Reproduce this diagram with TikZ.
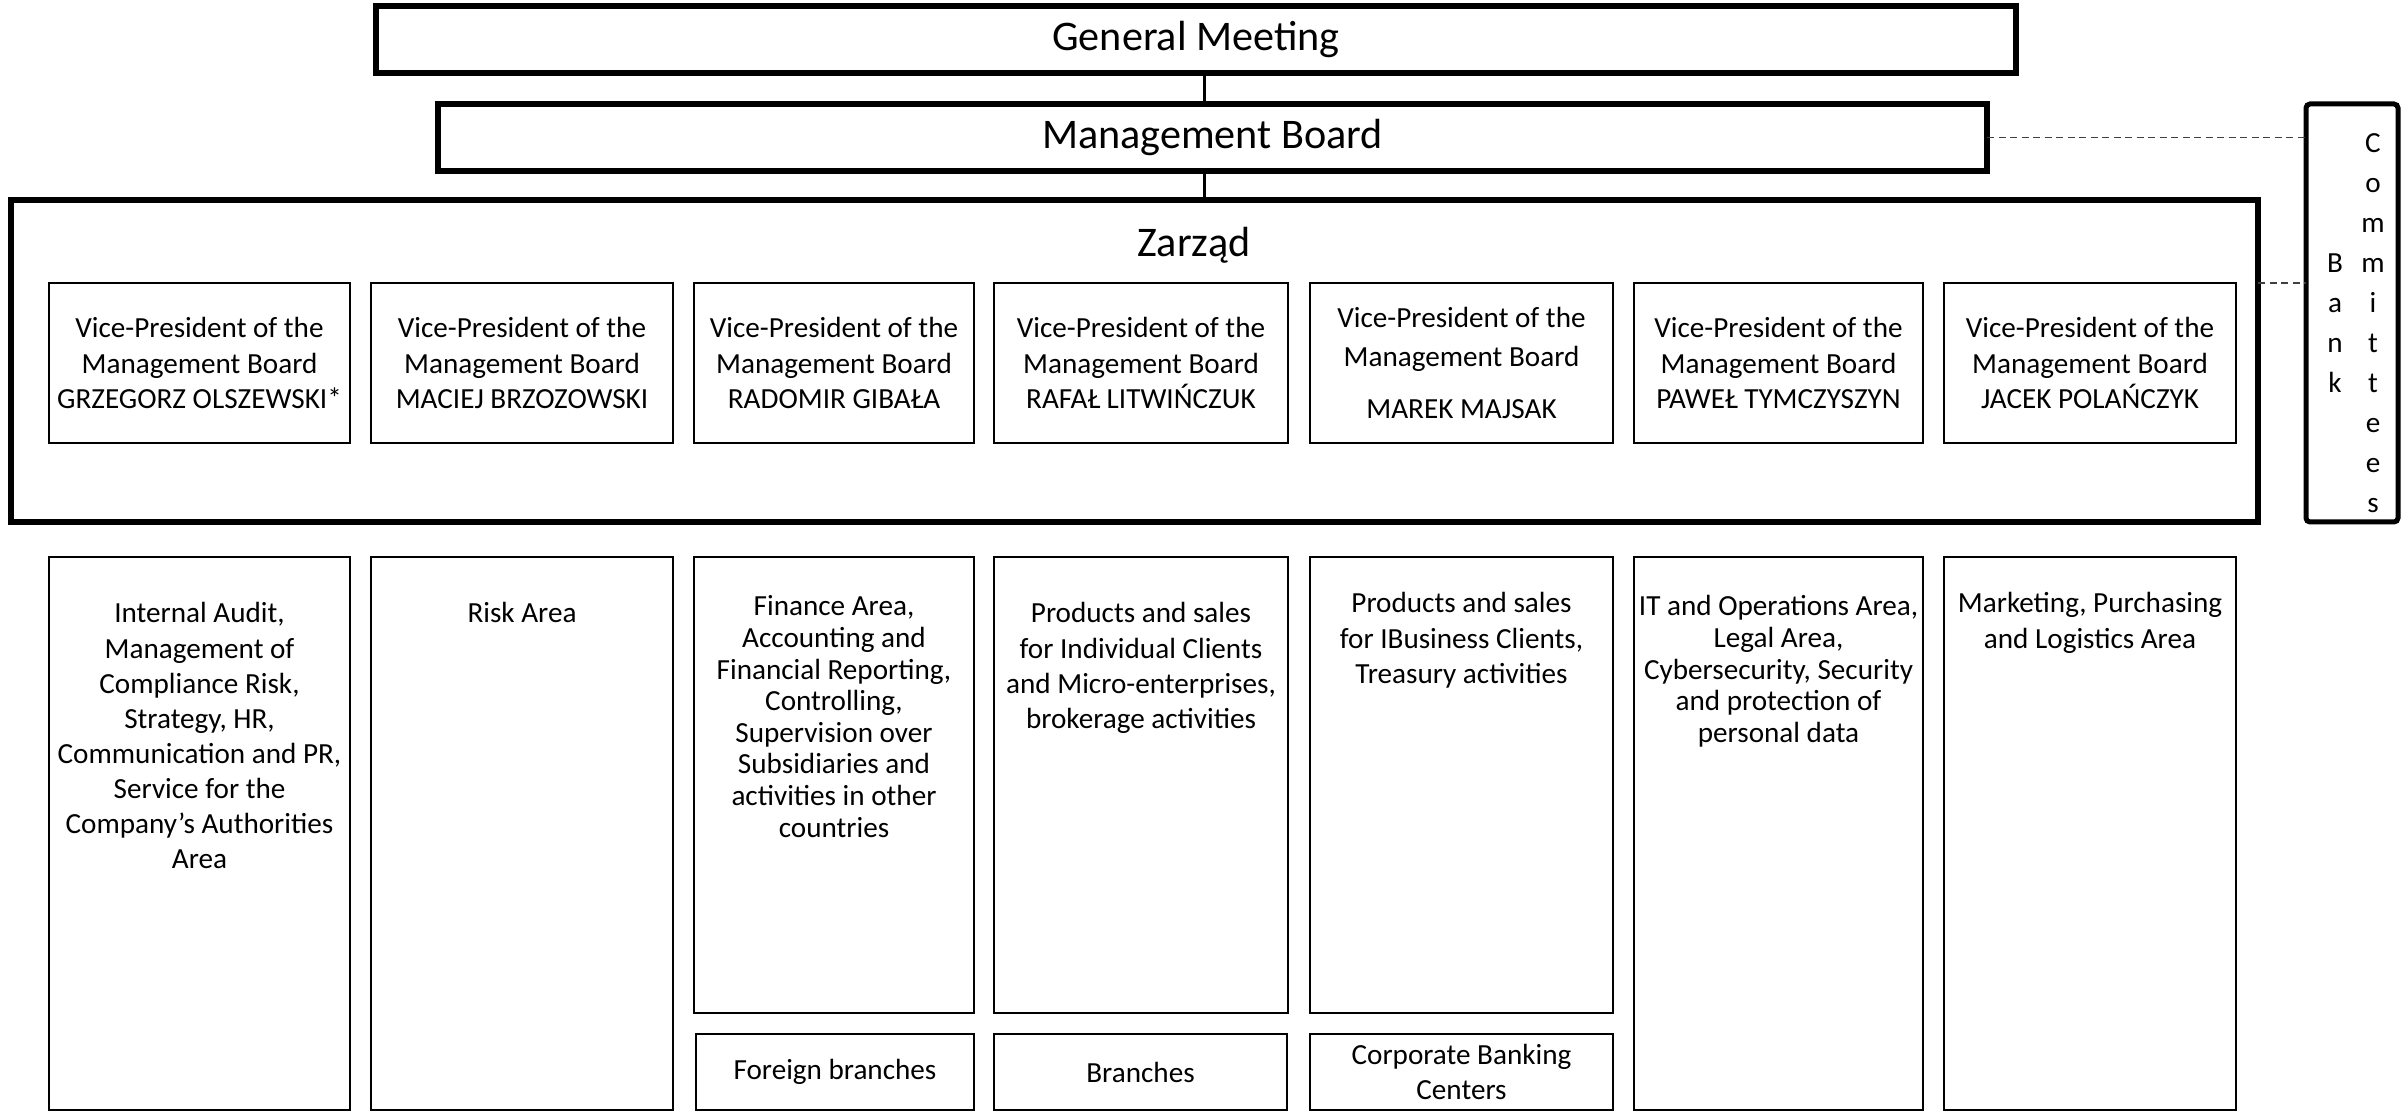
\documentclass[tikz,border=0pt]{standalone}
\usepackage{fontspec}
\setmainfont{Carlito}
%% A box given by its left, top, right and bottom edges.
\newcommand{\boxAt}[7]{%%
  \node[#1, minimum width={(#5-#3)*0.1mm}, minimum height={(#6-#4)*0.1mm}]
    (#2) at ({(#3+#5)/2},{(#4+#6)/2}) {#7};
}
%% The text hung from the top of an area box.
\newcommand{\areaText}[5]{%%
  \node[#1] (#2) at (#3.north |- 0,#4) {#5};
}
\newcommand{\vicePresidents}{%%
  \boxAt{vpStyle}{vpOne}{49}{283}{350}{443}{Vice-President of the\\Management Board\\GRZEGORZ OLSZEWSKI*}
  \boxAt{vpStyle}{vpTwo}{371}{283}{673}{443}{Vice-President of the\\Management Board\\MACIEJ BRZOZOWSKI}
  \boxAt{vpStyle}{vpThree}{694}{283}{974}{443}{Vice-President of the\\Management Board\\RADOMIR GIBAŁA}
  \boxAt{vpStyle}{vpFour}{994}{283}{1288}{443}{Vice-President of the\\Management Board\\RAFAŁ LITWIŃCZUK}
  \boxAt{vpStyle}{vpFive}{1310}{283}{1613}{443}{Vice-President of the\\[1.1pt]Management Board\\[5pt]MAREK MAJSAK}
  \boxAt{vpStyle}{vpSix}{1634}{283}{1923}{443}{Vice-President of the\\Management Board\\PAWEŁ TYMCZYSZYN}
  \boxAt{vpStyle}{vpSeven}{1944}{283}{2236}{443}{Vice-President of the\\Management Board\\JACEK POLAŃCZYK}
}
\newcommand{\areas}{%%
  %% The boxes.
  \boxAt{areaStyle}{areaOne}{49}{557}{350}{1110}{}
  \boxAt{areaStyle}{areaTwo}{371}{557}{673}{1110}{}
  \boxAt{areaStyle}{areaThree}{694}{557}{974}{1013}{}
  \boxAt{areaStyle}{areaFour}{994}{557}{1288}{1013}{}
  \boxAt{areaStyle}{areaFive}{1310}{557}{1613}{1013}{}
  \boxAt{areaStyle}{areaSix}{1634}{557}{1923}{1110}{}
  \boxAt{areaStyle}{areaSeven}{1944}{557}{2236}{1110}{}
  %% The texts.
  \areaText{areaTextStyle}{textOne}{areaOne}{602}{Internal Audit,\\Management of\\Compliance Risk,\\Strategy, HR,\\Communication and PR,\\Service for the\\Company's Authorities\\Area}
  \areaText{areaTextStyle}{textTwo}{areaTwo}{602}{Risk Area}
  \areaText{tightTextStyle}{textThree}{areaThree}{595}{Finance Area,\\Accounting and\\Financial Reporting,\\Controlling,\\Supervision over\\Subsidiaries and\\activities in other\\countries}
  \areaText{areaTextStyle}{textFour}{areaFour}{602}{Products and sales\\for Individual Clients\\and Micro-enterprises,\\brokerage activities}
  \areaText{areaTextStyle}{textFive}{areaFive}{592}{Products and sales\\for IBusiness Clients,\\Treasury activities}
  \areaText{tightTextStyle}{textSix}{areaSix}{595}{IT and Operations Area,\\Legal Area,\\Cybersecurity, Security\\and protection of\\personal data}
  \areaText{areaTextStyle}{textSeven}{areaSeven}{592}{Marketing, Purchasing\\and Logistics Area}
  %% The branches.
  \boxAt{vpStyle}{foreignBranches}{696}{1034}{974}{1110}{Foreign branches}
  \boxAt{vpStyle}{branches}{994}{1034}{1287}{1110}{Branches}
  \boxAt{vpStyle}{corporateCenters}{1310}{1034}{1613}{1110}{Corporate Banking\\Centers}
}

\begin{document}
\begin{tikzpicture}[x=0.1mm,y=-0.1mm,%%
  boardStyle/.style={draw,line width=0.55mm,inner sep=0pt,outer sep=0pt,font=\fontsize{12}{14}\selectfont},%%
  vpStyle/.style={draw,line width=0.2mm,align=center,inner sep=0pt,outer sep=0pt,font=\fontsize{8.3}{10}\selectfont},%%
  areaStyle/.style={draw,line width=0.2mm,inner sep=0pt,outer sep=0pt},%%
  areaTextStyle/.style={anchor=north,align=center,inner sep=0pt,font=\fontsize{8.3}{10}\selectfont},%%
  tightTextStyle/.style={anchor=north,align=center,inner sep=0pt,font=\fontsize{8.3}{9}\selectfont},%%
  bankStyle/.style={draw,line width=0.5mm,rounded corners=0.4mm,inner sep=0pt,outer sep=0pt},%%
  letterStyle/.style={align=center,inner sep=0pt,font=\fontsize{8.3}{11.4}\selectfont},%%
  linkStyle/.style={-,line width=0.3mm},%%
  dashStyle/.style={-,line width=0.15mm,black!75,dash pattern=on 0.7mm off 0.45mm}
]
\useasboundingbox (0,0) rectangle (2407,1114);
\coordinate (spine) at (1204,0);
%%
%% The governing bodies.
\boxAt{boardStyle}{meeting}{376}{6}{2016}{73}{General Meeting}
\boxAt{boardStyle}{board}{438}{104}{1987}{171}{Management Board}
\boxAt{boardStyle}{zarzad}{11}{200}{2258}{522}{}
\node[inner sep=0pt,font=\fontsize{12}{14}\selectfont,anchor=base] (zarzadLabel) at (1194,257) {Zarząd};
\draw[linkStyle] (meeting.south -| spine) -- (board.north -| spine);
\draw[linkStyle] (board.south -| spine) -- (zarzad.north -| spine);
%%
%% The board members and their areas.
\vicePresidents
\areas
%%
%% The committees.
\boxAt{bankStyle}{committees}{2306}{104}{2398}{522}{}
\node[letterStyle] (bankText) at (2335,323) {B\\a\\n\\k};
\node[letterStyle] (committeesText) at (2373,323) {C\\o\\m\\m\\i\\t\\t\\e\\e\\s};
\draw[dashStyle] (board.east) -- (board.east -| committees.west);
\draw[dashStyle] (zarzad.east |- vpSeven.north) -- (vpSeven.north -| committees.west);
\end{tikzpicture}
\end{document}
